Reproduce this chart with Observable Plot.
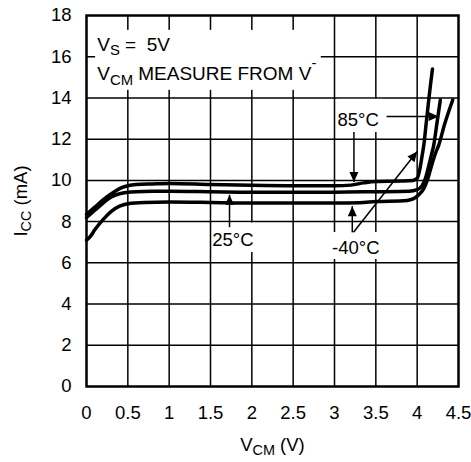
<!DOCTYPE html>
<html><head><meta charset="utf-8">
<script src="https://cdn.jsdelivr.net/npm/d3@7"></script>
<script src="https://cdn.jsdelivr.net/npm/@observablehq/plot@0.6"></script>
<style>body{margin:0;background:#fff;}</style>
</head><body><div id="chart"></div>
<script>
// Axis ticks
const xTicks = [0, 0.5, 1, 1.5, 2, 2.5, 3, 3.5, 4, 4.5];
const yTicks = [0, 2, 4, 6, 8, 10, 12, 14, 16, 18];

// Series: ICC (mA) vs VCM (V)
const v85 = [0, 0.1, 0.2, 0.3, 0.4, 0.5, 0.6, 0.8, 1.0, 1.5, 2.0, 2.5, 3.0, 3.2, 3.35, 3.5, 3.8, 3.95, 4.0, 4.03, 4.06, 4.08, 4.11, 4.14, 4.16, 4.185];
const i85 = [8.35, 8.7, 9.05, 9.35, 9.6, 9.74, 9.8, 9.83, 9.85, 9.8, 9.76, 9.74, 9.74, 9.77, 9.88, 9.95, 9.97, 10.0, 10.1, 10.5, 11.2, 11.7, 12.8, 13.9, 14.6, 15.4];
const v25 = [0, 0.1, 0.2, 0.3, 0.4, 0.5, 0.6, 0.8, 1.0, 1.5, 2.0, 2.5, 3.0, 3.5, 3.9, 4.0, 4.06, 4.1, 4.14, 4.17, 4.2, 4.24, 4.28];
const i25 = [8.2, 8.55, 8.9, 9.2, 9.35, 9.42, 9.45, 9.47, 9.47, 9.45, 9.43, 9.43, 9.43, 9.45, 9.47, 9.55, 9.75, 10.1, 10.7, 11.2, 11.7, 12.8, 13.9];
const vM40 = [0, 0.05, 0.1, 0.2, 0.3, 0.4, 0.5, 0.7, 1.0, 1.5, 2.0, 2.5, 3.0, 3.3, 3.5, 3.88, 3.95, 4.02, 4.08, 4.13, 4.18, 4.22, 4.26, 4.33, 4.43];
const iM40 = [7.1, 7.3, 7.6, 8.1, 8.5, 8.75, 8.87, 8.93, 8.95, 8.93, 8.9, 8.9, 8.9, 8.92, 8.97, 9.03, 9.1, 9.3, 9.6, 10.1, 10.8, 11.3, 11.7, 12.7, 13.9];

// Annotation text (data coordinates, baseline-anchored)
const legendText = ["V_{S} =  5V", "V_{CM} MEASURE FROM V^{-}"];
const legendX = [0.13, 0.13];
const legendY = [16.3, 14.85];
const tempText = ["85°C", "25°C", "-40°C"];
const tempX = [3.036, 1.52, 2.97];
const tempY = [12.66, 6.84, 6.45];

// White boxes behind annotation text (grid gaps)
const maskX1 = [0.11, 3.04, 1.53, 2.94];
const maskX2 = [2.84, 3.59, 2.04, 3.59];
const maskY1 = [14.37, 12.32, 6.5, 6.16];
const maskY2 = [17.28, 13.93, 7.93, 7.47];

// Pointer arrows
const arrX1 = [3.235, 3.63, 1.73, 3.215, 3.23];
const arrY1 = [12.35, 13.1, 7.73, 7.48, 7.48];
const arrX2 = [3.235, 4.26, 1.73, 3.215, 4.0];
const arrY2 = [9.92, 13.1, 9.3, 8.75, 11.4];

const series = [
  ...v85.map((v, k) => ({s: "85", v, i: i85[k]})),
  ...v25.map((v, k) => ({s: "25", v, i: i25[k]})),
  ...vM40.map((v, k) => ({s: "-40", v, i: iM40[k]}))
];
const masks = maskX1.map((d, k) => ({x1: d, x2: maskX2[k], y1: maskY1[k], y2: maskY2[k]}));
const arrows = arrX1.map((d, k) => ({x1: d, y1: arrY1[k], x2: arrX2[k], y2: arrY2[k]}));
const legend = legendText.map((t, k) => ({t, x: legendX[k], y: legendY[k]}));
const temps = tempText.map((t, k) => ({t, x: tempX[k], y: tempY[k]}));

const font = "'Liberation Sans', Arial, Helvetica, sans-serif";
const chart = Plot.plot({
  width: 471, height: 462,
  marginLeft: 86, marginRight: 13, marginTop: 15, marginBottom: 76,
  style: {fontFamily: font, fontSize: "18.5px", color: "black", background: "white"},
  x: {domain: [0, 4.5]},
  y: {domain: [0, 18]},
  marks: [
    Plot.gridX(xTicks.slice(1, -1), {stroke: "black", strokeOpacity: 1, strokeWidth: 1.5}),
    Plot.gridY(yTicks.slice(1, -1), {stroke: "black", strokeOpacity: 1, strokeWidth: 1.5}),
    Plot.rect(masks, {x1: "x1", x2: "x2", y1: "y1", y2: "y2", fill: "white"}),
    Plot.frame({stroke: "black", strokeWidth: 2.5}),
    Plot.line(series, {x: "v", y: "i", z: "s", stroke: "black", strokeWidth: 3.5, curve: "monotone-x", strokeLinejoin: "round", strokeLinecap: "round"}),
    Plot.link(arrows, {x1: "x1", y1: "y1", x2: "x2", y2: "y2", stroke: "black", strokeWidth: 1.5, markerEnd: "arrow"}),
    Plot.text(legend, {x: "x", y: "y", text: "t", textAnchor: "start", lineAnchor: "bottom", fontSize: 19}),
    Plot.text(temps, {x: "x", y: "y", text: "t", textAnchor: "start", lineAnchor: "bottom", fontSize: 18.5}),
    Plot.axisX(xTicks, {tickSize: 0, tickPadding: 19, tickFormat: d => `${d}`, label: "V_{CM} (V)", labelAnchor: "center", labelOffset: 64, labelArrow: "none", fontSize: 18.5}),
    Plot.axisY(yTicks, {tickSize: 0, tickPadding: 15, tickFormat: d => `${d}`, label: "I_{CC} (mA)", labelAnchor: "center", labelOffset: 73, labelArrow: "none", fontSize: 18.5})
  ]
});

// Rich text: _{sub} and ^{sup}
d3.select(chart).selectAll("text").each(function () {
  const s = this.textContent;
  if (!/[_^]\{/.test(s)) return;
  this.textContent = "";
  let cur = 0, m;
  const re = /([_^])\{([^}]*)\}|([^_^]+)/g;
  while ((m = re.exec(s))) {
    const t = document.createElementNS("http://www.w3.org/2000/svg", "tspan");
    let target;
    if (m[3] !== undefined) { t.textContent = m[3]; target = 0; }
    else { t.textContent = m[2]; target = m[1] === "_" ? 4.5 : -12; t.style.fontSize = "78%"; }
    if (target !== cur) t.setAttribute("dy", target - cur);
    cur = target;
    this.appendChild(t);
  }
});

// Filled triangular arrowheads
d3.select(chart).selectAll("marker").each(function () {
  const m = d3.select(this);
  m.attr("viewBox", "-11 -5 12 10").attr("markerWidth", 12).attr("markerHeight", 10)
   .attr("markerUnits", "userSpaceOnUse").attr("refX", 0).attr("refY", 0)
   .attr("fill", "black").attr("stroke", "none");
  m.selectAll("*").remove();
  m.append("path").attr("d", "M-10,-4.5L0,0L-10,4.5Z");
});

document.getElementById("chart").appendChild(chart);
</script>
</body></html>
